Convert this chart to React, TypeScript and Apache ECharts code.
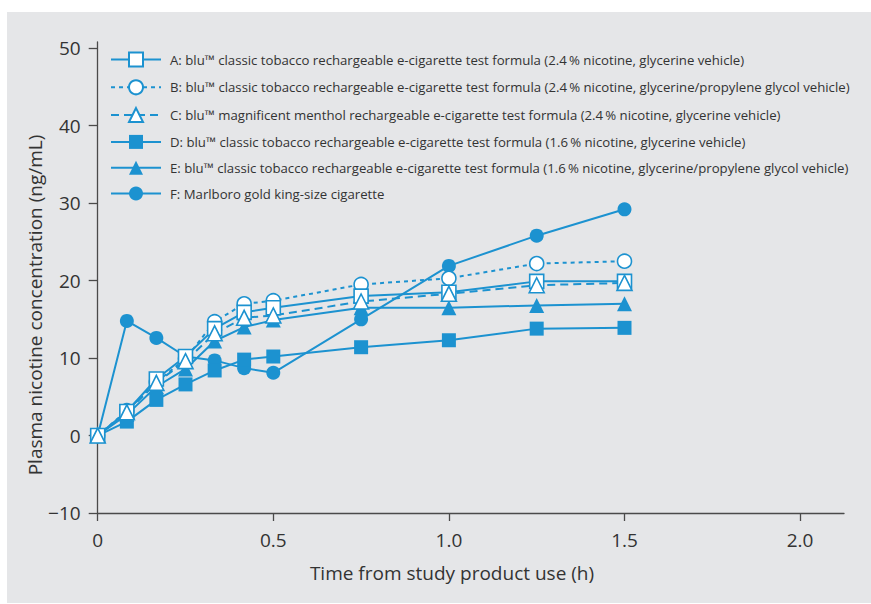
import React, { useEffect, useRef } from "react";
import * as echarts from "echarts";

const times = [0, 0.083, 0.167, 0.25, 0.333, 0.417, 0.5, 0.75, 1.0, 1.25, 1.5];
const seriesA = [0, 3.1, 7.3, 10.2, 13.8, 15.9, 16.5, 18.0, 18.5, 19.9, 19.9];
const seriesB = [0, 3.2, 6.9, 9.9, 14.7, 17.0, 17.4, 19.5, 20.3, 22.2, 22.5];
const seriesC = [0, 3.0, 6.8, 9.6, 13.2, 15.2, 15.5, 17.3, 18.3, 19.4, 19.7];
const seriesD = [0, 1.8, 4.6, 6.6, 8.4, 9.8, 10.2, 11.4, 12.3, 13.8, 13.9];
const seriesE = [0, 2.7, 6.3, 8.6, 12.2, 14.0, 14.9, 16.5, 16.5, 16.8, 17.0];
const seriesF = [0, 14.8, 12.6, 10.2, 9.7, 8.7, 8.1, 15.0, 21.9, 25.8, 29.2];

const nameA = "A: blu\u2122 classic tobacco rechargeable e-cigarette test formula (2.4\u2009% nicotine, glycerine vehicle)";
const nameB = "B: blu\u2122 classic tobacco rechargeable e-cigarette test formula (2.4\u2009% nicotine, glycerine/propylene glycol vehicle)";
const nameC = "C: blu\u2122 magnificent menthol rechargeable e-cigarette test formula (2.4\u2009% nicotine, glycerine vehicle)";
const nameD = "D: blu\u2122 classic tobacco rechargeable e-cigarette test formula (1.6\u2009% nicotine, glycerine vehicle)";
const nameE = "E: blu\u2122 classic tobacco rechargeable e-cigarette test formula (1.6\u2009% nicotine, glycerine/propylene glycol vehicle)";
const nameF = "F: Marlboro gold king-size cigarette";

const xTicks = [0, 0.5, 1.0, 1.5, 2.0];
const yTicks = [-10, 0, 10, 20, 30, 40, 50];
const xTitle = "Time from study product use (h)";
const yTitle = "Plasma nicotine concentration (ng/mL)";

const BLUE = "#1c92d0";
const TEXT = "#333333";
const AXIS = "#4a4a4a";
const FONT = "'Open Sans', 'Noto Sans', sans-serif";

function pairs(vals: number[]) {
  return times.map((t, i) => [t, vals[i]]);
}

export default function App() {
  const ref = useRef<HTMLDivElement>(null);
  useEffect(() => {
    if (!ref.current) return;
    const chart = echarts.init(ref.current, undefined, { renderer: "svg" });
    const mk = (
      name: string,
      vals: number[],
      symbol: string,
      size: number,
      hollow: boolean,
      lineType: any
    ) => ({
      name,
      type: "line",
      data: pairs(vals),
      symbol,
      symbolSize: size,
      showSymbol: true,
      lineStyle: { color: BLUE, width: 2, type: lineType },
      itemStyle: hollow
        ? { color: "#ffffff", borderColor: BLUE, borderWidth: 1.6 }
        : { color: BLUE, borderWidth: 0 },
      emphasis: { disabled: true },
    });
    chart.setOption({
      animation: false,
      textStyle: { fontFamily: FONT },
      graphic: [
        {
          type: "rect",
          z: -10,
          shape: { x: 7, y: 12, width: 864, height: 591 },
          style: { fill: "#e5e6e8" },
          silent: true,
        },
        {
          type: "text",
          x: 35,
          y: 305,
          rotation: Math.PI / 2,
          style: {
            text: yTitle,
            fill: TEXT,
            font: `19px ${FONT}`,
            align: "center",
            verticalAlign: "middle",
          },
        },
        {
          type: "text",
          x: 452,
          y: 573,
          style: {
            text: xTitle,
            fill: TEXT,
            font: `19px ${FONT}`,
            align: "center",
            verticalAlign: "middle",
          },
        },
      ],
      grid: { left: 97.7, top: 42, width: 746.3, height: 471, containLabel: false },
      legend: {
        orient: "vertical",
        left: 105,
        top: 46.5,
        itemWidth: 50,
        itemHeight: 17.5,
        itemGap: 11.8,
        selectedMode: false,
        textStyle: { fontSize: 13.2, color: TEXT, fontFamily: FONT, padding: [0, 0, 0, 4] },
        data: [nameA, nameB, nameC, nameD, nameE, nameF],
      },
      xAxis: {
        type: "value",
        min: 0,
        max: 2.125,
        axisLine: { show: true, onZero: false, lineStyle: { color: AXIS, width: 1.3 } },
        axisTick: { show: true, length: 8, customValues: xTicks, lineStyle: { color: AXIS, width: 1.3 } },
        axisLabel: {
          customValues: xTicks,
          formatter: (v: number) => (v === 0 ? "0" : v.toFixed(1)),
          fontSize: 19,
          color: TEXT,
          margin: 17,
          fontFamily: FONT,
        },
        splitLine: { show: false },
      },
      yAxis: {
        type: "value",
        min: -10,
        max: 50.8,
        axisLine: { show: true, onZero: false, lineStyle: { color: AXIS, width: 1.3 } },
        axisTick: { show: true, length: 9, customValues: yTicks, lineStyle: { color: AXIS, width: 1.3 } },
        axisLabel: {
          customValues: yTicks,
          formatter: (v: number) => (v < 0 ? "\u2212" + Math.abs(v) : String(v)),
          fontSize: 19,
          color: TEXT,
          margin: 17,
          fontFamily: FONT,
        },
        splitLine: { show: false },
      },
      series: [
        mk(nameF, seriesF, "circle", 14, false, "solid"),
        mk(nameD, seriesD, "rect", 14, false, "solid"),
        mk(nameE, seriesE, "triangle", 15, false, "solid"),
        mk(nameB, seriesB, "circle", 14, true, [4, 4]),
        mk(nameA, seriesA, "rect", 14, true, "solid"),
        mk(nameC, seriesC, "triangle", 15, true, [8, 5]),
      ],
    });
    return () => chart.dispose();
  }, []);
  return (
    <div
      ref={ref}
      style={{ position: "fixed", left: 0, top: 0, width: 871, height: 604, background: "#ffffff" }}
    />
  );
}
